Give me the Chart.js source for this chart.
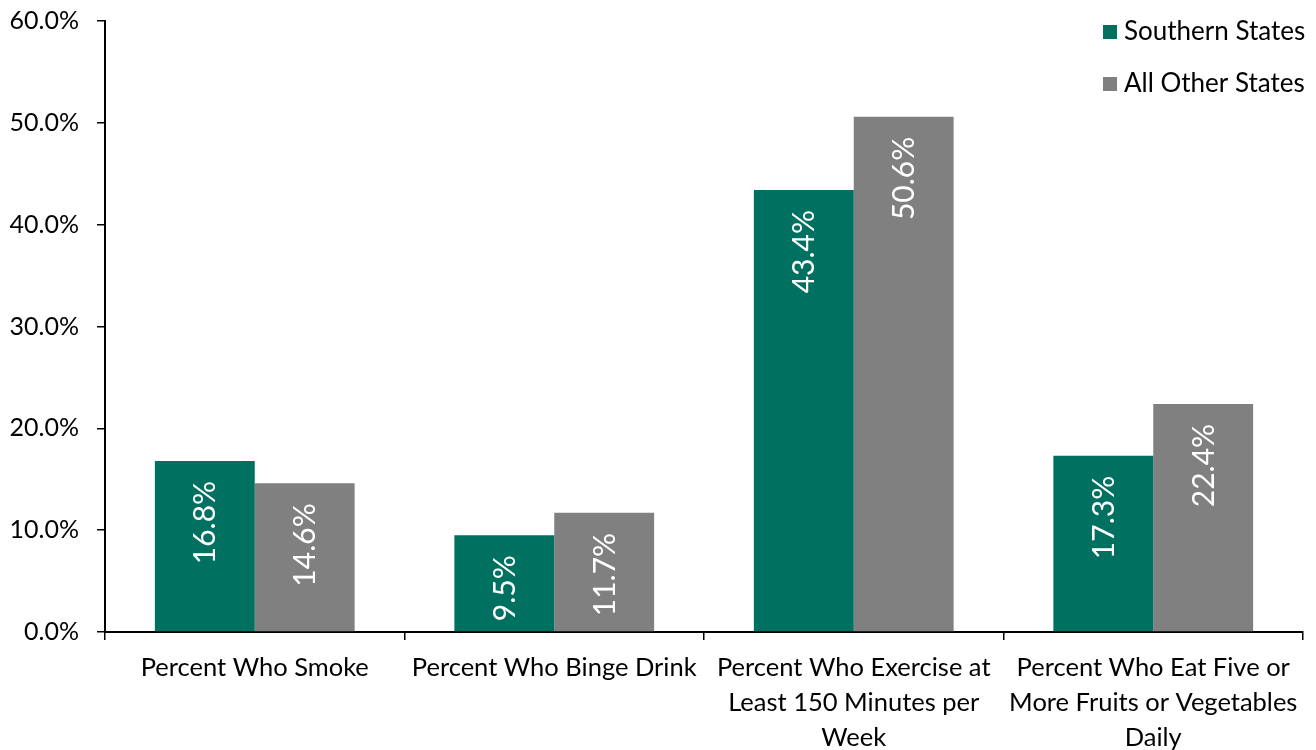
<!DOCTYPE html>
<html>
<head>
<meta charset="utf-8">
<script src="https://cdn.jsdelivr.net/npm/chart.js@4"></script>
<style>
  html, body { margin: 0; padding: 0; background: #fff; }
  #wrap { width: 1316px; height: 750px; }
</style>
</head>
<body>
<div id="wrap"><canvas id="healthChart" width="1316" height="750"></canvas></div>
<script>
// behaviours by region
const categories = [
    ["Percent Who Smoke"],
    ["Percent Who Binge Drink"],
    ["Percent Who Exercise at", "Least 150 Minutes per", "Week"],
    ["Percent Who Eat Five or", "More Fruits or Vegetables", "Daily"]
];
const southernStates = [16.8, 9.5, 43.4, 17.3];
const otherStates = [14.6, 11.7, 50.6, 22.4];
const yTicks = [0, 10, 20, 30, 40, 50, 60];

const TEAL = "#007060";
const GREY = "#808080";
const FONT = "Lato, 'Open Sans', sans-serif";

// white rotated value labels just under the top of each bar
const barLabels = {
    id: "barLabels",
    afterDatasetsDraw(chart) {
        const ctx = chart.ctx;
        chart.data.datasets.forEach((ds, i) => {
            chart.getDatasetMeta(i).data.forEach((bar, j) => {
                ctx.save();
                ctx.translate(bar.x, bar.y + 20);
                ctx.rotate(-Math.PI / 2);
                ctx.font = "30px " + FONT;
                ctx.fillStyle = "#fff";
                ctx.textAlign = "right";
                ctx.textBaseline = "middle";
                ctx.fillText(ds.data[j].toFixed(1) + "%", 0, 1);
                ctx.restore();
            });
        });
    }
};

// legend stacked in the top right corner of the plot
const cornerLegend = {
    id: "cornerLegend",
    afterDraw(chart) {
        const ctx = chart.ctx;
        ctx.save();
        ctx.font = "26px " + FONT;
        ctx.textBaseline = "middle";
        chart.data.datasets.forEach((ds, i) => {
            const y = 32 + i * 52;
            ctx.fillStyle = ds.backgroundColor;
            ctx.fillRect(1103, y - 7, 14, 14);
            ctx.fillStyle = "#000";
            ctx.fillText(ds.label, 1124, y);
        });
        ctx.restore();
    }
};

new Chart(document.getElementById("healthChart"), {
    type: "bar",
    data: {
        labels: categories,
        datasets: [
            { label: "Southern States", data: southernStates, backgroundColor: TEAL },
            { label: "All Other States", data: otherStates, backgroundColor: GREY }
        ]
    },
    options: {
        responsive: false,
        animation: false,
        layout: { padding: { top: 21, right: 13, left: 0, bottom: 0 } },
        datasets: {
            bar: { categoryPercentage: 0.667, barPercentage: 1.0 }
        },
        plugins: {
            legend: { display: false },
            tooltip: { enabled: false }
        },
        scales: {
            x: {
                grid: { drawOnChartArea: false, color: "#000", lineWidth: 1.5, tickLength: 8, offset: true },
                border: { color: "#000", width: 2 },
                ticks: { color: "#000", font: { family: FONT, size: 25.5, lineHeight: 1.37 }, padding: 10, maxRotation: 0, autoSkip: false },
                afterFit(scale) { scale.height = 118; }
            },
            y: {
                min: 0,
                max: 60,
                afterBuildTicks(scale) { scale.ticks = yTicks.map(v => ({ value: v })); },
                grid: { drawOnChartArea: false, color: "#000", lineWidth: 1.5, tickLength: 8 },
                border: { color: "#000", width: 2 },
                ticks: {
                    color: "#000",
                    font: { family: FONT, size: 25 },
                    padding: 18,
                    callback: v => v.toFixed(1) + "%"
                },
                afterFit(scale) {
                    scale.width = 105;
                    scale.paddingTop = 0;
                    scale.paddingBottom = 0;
                }
            }
        }
    },
    plugins: [barLabels, cornerLegend]
});
</script>
</body>
</html>
